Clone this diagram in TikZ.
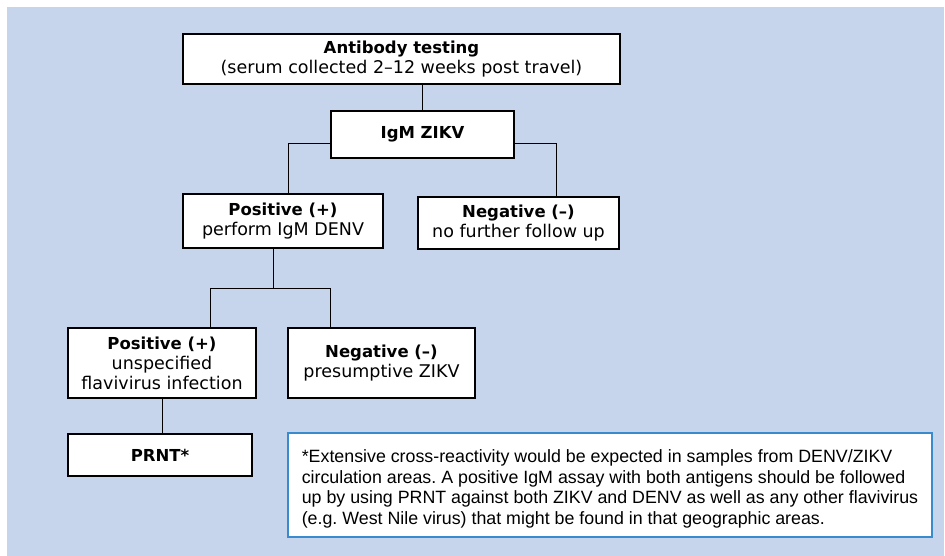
\documentclass[tikz,border=0pt]{standalone}
\usepackage{fontspec}
\usetikzlibrary{shadows}
\newfontfamily\boxfont{DejaVu Sans}
\newfontfamily\notefont{Liberation Sans}
\newcommand{\headline}[1]{{\fontsize{16.5}{20}\selectfont\bfseries #1}}
\frenchspacing

\begin{document}
\begin{tikzpicture}[x=1pt, y=-1pt]

\definecolor{panelblue}{RGB}{198, 213, 236}
\definecolor{noteblue}{RGB}{58, 138, 206}

% Fill background
\useasboundingbox (0,0) rectangle (945,556);
\fill[panelblue] (7,7) rectangle (944,556);

\tikzset{
    test box/.style={
        draw=black, line width=1.2pt, fill=white,
        inner sep=2pt, align=center,
        font=\boxfont\fontsize{17.5}{20}\selectfont,
        drop shadow={shadow xshift=1pt, shadow yshift=-1pt, fill=black!45}
    },
    link/.style={
        draw=black, line width=0.9pt
    }
}

% Decision boxes
\node[test box, minimum width=437, minimum height=50] (test) at (401.5, 59)
    {\headline{Antibody testing}\\(serum collected 2–12 weeks post travel)};
\node[test box, minimum width=183, minimum height=47] (igm) at (422.5, 134.5)
    {\headline{IgM ZIKV}};
\node[test box, minimum width=200, minimum height=54] (pos1) at (283, 221)
    {\headline{Positive (+)}\\perform IgM DENV};
\node[test box, minimum width=201, minimum height=52] (neg1) at (518.5, 223)
    {\headline{Negative (–)}\\no further follow up};
\node[test box, minimum width=188, minimum height=70] (pos2) at (162, 363)
    {\headline{Positive (+)}\\unspecified\\flavivirus infection};
\node[test box, minimum width=187, minimum height=70] (neg2) at (381.5, 363)
    {\headline{Negative (–)}\\presumptive ZIKV};
\node[test box, minimum width=184, minimum height=42] (prnt) at (160, 455)
    {\headline{PRNT*}};

% --- CONNECTORS ---
\draw[link] (igm.north) -- (igm.north |- test.south);
\draw[link] ([yshift=-9pt]igm.west) -| ([xshift=5pt]pos1.north);
\draw[link] ([yshift=-9pt]igm.east) -| ([xshift=38pt]neg1.north);
\draw[link] ([xshift=-10pt]pos1.south) -- ++(0,40) coordinate (fork);
\draw[link] (fork) -| ([xshift=48pt]pos2.north);
\draw[link] (fork) -| ([xshift=-51pt]neg2.north);
\draw[link] (pos2.south) -- (pos2.south |- prnt.north);

% Footnote
\node[draw=noteblue, line width=1.5pt, fill=white,
      minimum width=644, minimum height=104, align=left,
      inner sep=0pt, font=\notefont\fontsize{17.8}{20.5}\selectfont] (note) at (610, 485)
    {\rule{0pt}{21pt}*Extensive cross-reactivity would be expected in samples from DENV/ZIKV\\
     circulation areas. A positive IgM assay with both antigens should be followed\\
     up by using PRNT against both ZIKV and DENV as well as any other flavivirus\\
     (e.g. West Nile virus) that might be found in that geographic areas.};

\end{tikzpicture}
\end{document}
